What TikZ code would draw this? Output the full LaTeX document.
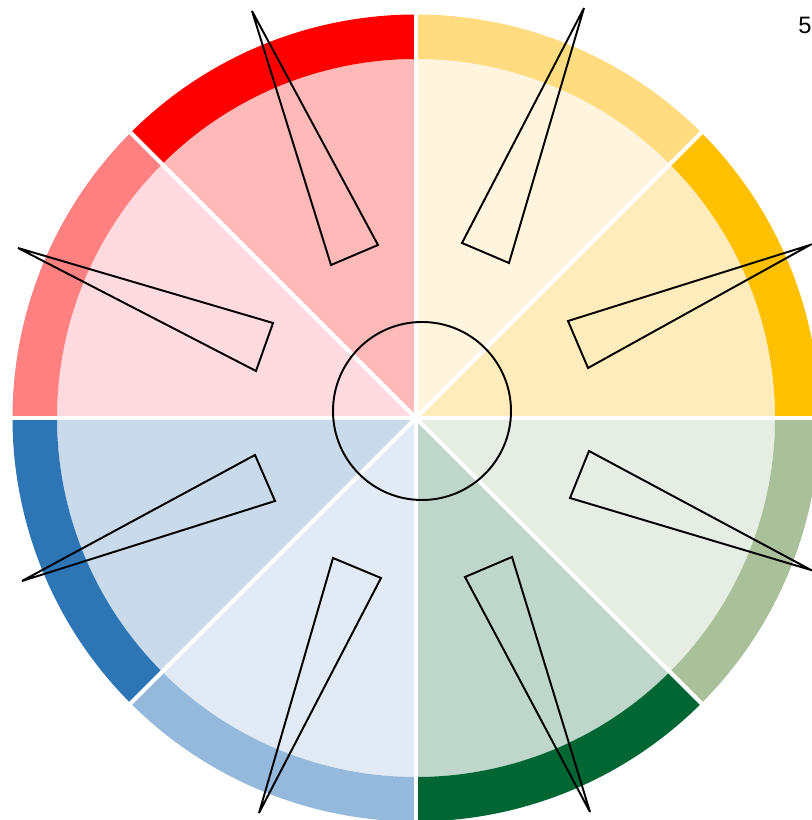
\documentclass[tikz,border=0pt]{standalone}
\usepackage{fontspec}
\setmainfont{Liberation Sans}
\usepackage{xcolor}
\usepackage{tikz}
\definecolor{ringE}{HTML}{FFC000}
\definecolor{ringNE}{HTML}{FFDC80}
\definecolor{ringNW}{HTML}{FF0000}
\definecolor{ringW}{HTML}{FF8080}
\definecolor{ringSW}{HTML}{2E75B6}
\definecolor{ringS}{HTML}{95B9DC}
\definecolor{ringSE}{HTML}{006633}
\definecolor{ringEE}{HTML}{A9C09A}
\definecolor{padE}{HTML}{FFECBC}
\definecolor{padNE}{HTML}{FFF5DF}
\definecolor{padNW}{HTML}{FFB9B9}
\definecolor{padW}{HTML}{FFDADF}
\definecolor{padSW}{HTML}{C9DAEB}
\definecolor{padS}{HTML}{E1EAF5}
\definecolor{padSE}{HTML}{BFD7CB}
\definecolor{padEE}{HTML}{E6EDE3}

\begin{document}
\begin{tikzpicture}[x=0.02cm, y=0.02cm,
  spoke/.style={white,line width=2.3pt},
  needle/.style={black,line width=1.1pt,line join=miter},
  hub/.style={black,line width=1.1pt}]
\useasboundingbox (-416,-402) rectangle (395,418);
% wheel: inner pads and outer ring, eight sectors of 45 degrees
\foreach \a/\ring/\pad in {0/ringE/padE, 45/ringNE/padNE, 90/ringNW/padNW, 135/ringW/padW,
    180/ringSW/padSW, 225/ringS/padS, 270/ringSE/padSE, 315/ringEE/padEE} {
  \fill[\pad] (0,0) -- (\a:359) arc[start angle=\a, end angle=\a+45, radius=359] -- cycle;
  \fill[\ring] (\a:359) -- (\a:403.5) arc[start angle=\a, end angle=\a+45, radius=403.5]
    -- (\a+45:359) arc[start angle=\a+45, end angle=\a, radius=359] -- cycle;
}
% white spokes between the sectors
\coordinate (c) at (0,0);
\foreach \a in {0,45,...,315}
  \draw[spoke] (c) -- (\a:405);
% hub circle
\node[hub,circle,draw,minimum size=178*0.02cm,inner sep=0pt] (hub) at (6,7) {};
% needles
\draw[needle] (-164,407) -- (-85,153) -- (-38,173) -- cycle;
\draw[needle] (168,410) -- (46,175) -- (93,155) -- cycle;
\draw[needle] (-398,170) -- (-160,47) -- (-143,95) -- cycle;
\draw[needle] (394,173) -- (152,97) -- (172,50) -- cycle;
\draw[needle] (-394,-163) -- (-161,-37) -- (-141,-83) -- cycle;
\draw[needle] (395,-152) -- (173,-33) -- (154,-80) -- cycle;
\draw[needle] (-157,-395) -- (-83,-140) -- (-35,-160) -- cycle;
\draw[needle] (174,-394) -- (49,-159) -- (96,-139) -- cycle;
% page number
\node[inner sep=0pt,font=\fontsize{13.5}{16}\selectfont] (num) at (389,393) {5};
\end{tikzpicture}
\end{document}
